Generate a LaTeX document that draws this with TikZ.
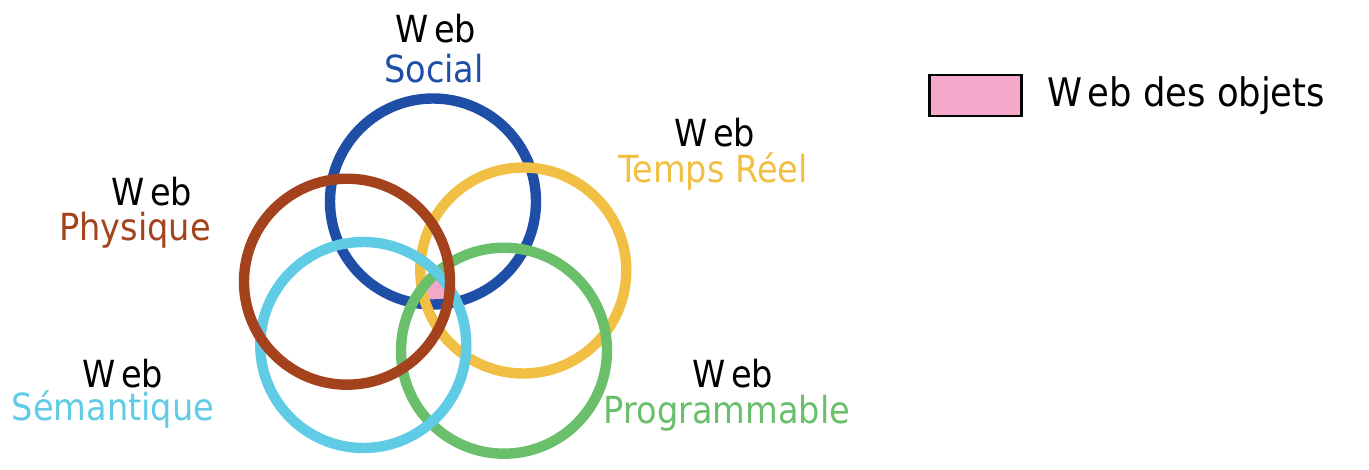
\documentclass[tikz,border=0pt]{standalone}
\usepackage{fontspec}
\setmainfont{DejaVu Sans Condensed}
\definecolor{cblue}{HTML}{1E4EA6}
\definecolor{cbrown}{HTML}{A3421C}
\definecolor{cyellow}{HTML}{F2BF45}
\definecolor{ccyan}{HTML}{5FCBE5}
\definecolor{cgreen}{HTML}{6ABF6B}
\definecolor{cpink}{HTML}{F4A9CB}
\newcommand{\wordweb}{W\kern4pt eb}
\tikzset{
  ring/.style={line width=7.8pt},
  lbl/.style={anchor=base, inner sep=0pt, font=\fontsize{28}{30}\selectfont},
}
\begin{document}
\begin{tikzpicture}[x=0.75pt,y=-0.75pt]
\useasboundingbox (0,0) rectangle (1369,470);
\coordinate (cso) at (433,201.5);
\coordinate (cph) at (347,281.7);
\coordinate (cte) at (523.3,270.5);
\coordinate (cse) at (363.3,345);
\coordinate (cpr) at (504,350.7);
% common intersection: Web des objets
\begin{scope}
  \clip (cso) circle[radius=77.25pt];
  \clip (cph) circle[radius=77.25pt];
  \clip (cte) circle[radius=77.25pt];
  \clip (cse) circle[radius=77.25pt];
  \clip (cpr) circle[radius=77.25pt];
  \fill[cpink] (300,200) rectangle (600,400);
\end{scope}
\draw[ring, cblue] (cso) circle[radius=77.25pt];
\draw[ring, cyellow] (cte) circle[radius=77.25pt];
\draw[ring, cgreen] (cpr) circle[radius=77.25pt];
\draw[ring, ccyan] (cse) circle[radius=77.25pt];
\draw[ring, cbrown] (cph) circle[radius=77.25pt];
% labels
\node[lbl] (w1) at (436,43) {\wordweb};
\node[lbl, text=cblue] (l1) at (434,83) {Social};
\node[lbl] (w2) at (715,147) {\wordweb};
\node[lbl, text=cyellow] (l2) at (713,183) {Temps Réel};
\node[lbl] (w3) at (152,205) {\wordweb};
\node[lbl, text=cbrown] (l3) at (135,240) {Physique};
\node[lbl] (w4) at (123,387) {\wordweb};
\node[lbl, text=ccyan] (l4) at (113,420) {Sémantique};
\node[lbl] (w5) at (733,387) {\wordweb};
\node[lbl, text=cgreen] (l5) at (727,423) {Programmable};
% legend
\node[draw=black, line width=1.6pt, fill=cpink, minimum width=69pt, minimum height=30.5pt, inner sep=0pt] (leg) at (975.5,95.5) {};
\node[lbl, anchor=base west, font=\fontsize{29.5}{32}\selectfont] (legt) at (1047,107) {\wordweb{} des objets};
\end{tikzpicture}
\end{document}
